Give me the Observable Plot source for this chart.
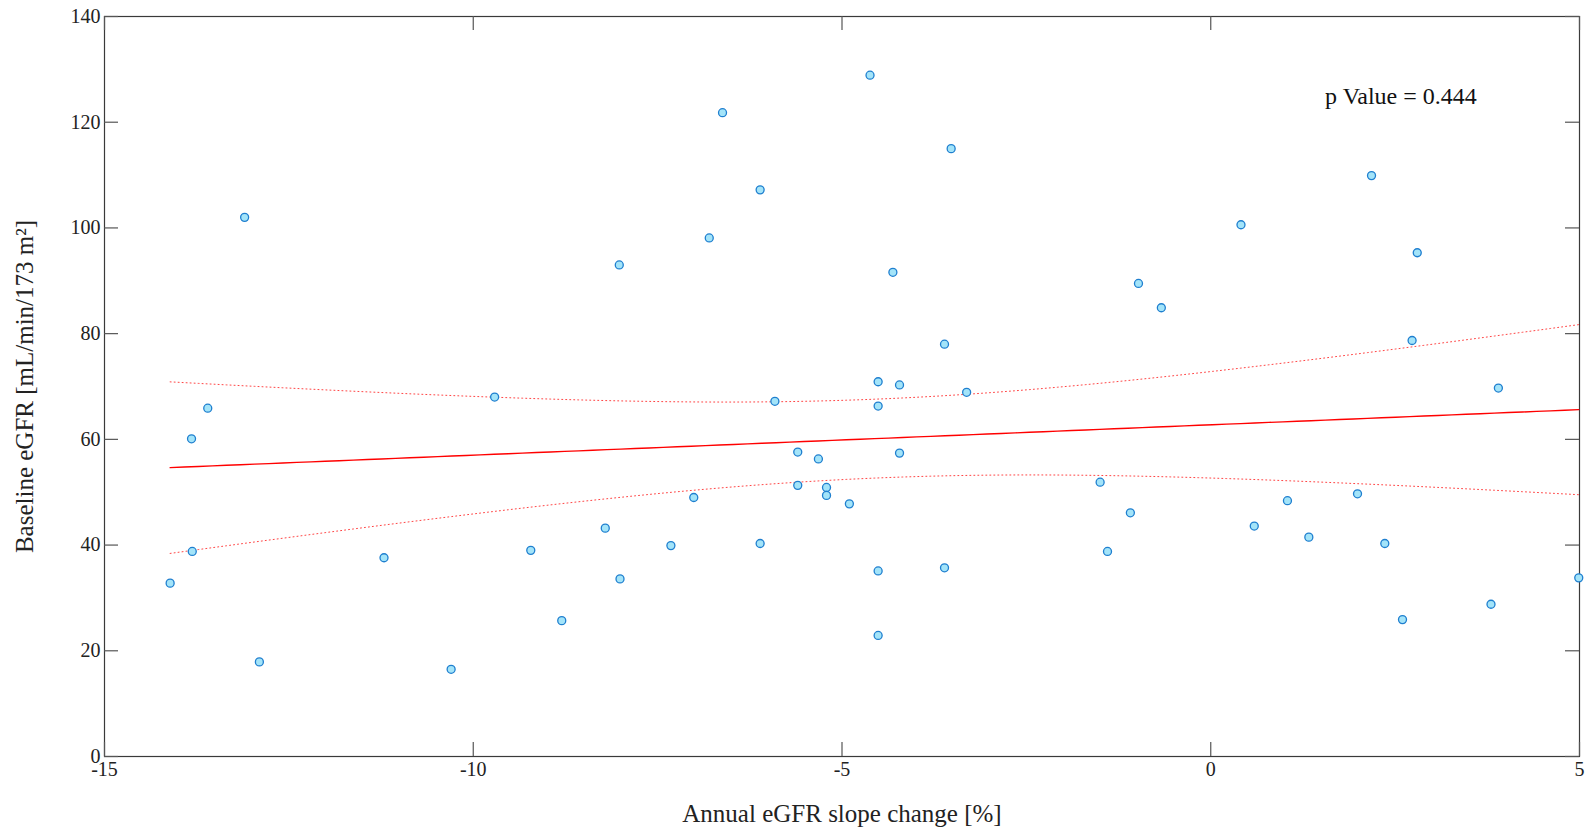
<!DOCTYPE html>
<html>
<head>
<meta charset="utf-8">
<script src="https://cdn.jsdelivr.net/npm/d3@7"></script>
<script src="https://cdn.jsdelivr.net/npm/@observablehq/plot@0.6"></script>
<style>
  html, body { margin: 0; padding: 0; background: #fff; }
  #chart svg { display: block; }
</style>
</head>
<body>
<div id="chart"></div>
<script>
// Annual eGFR slope change [%]
const slopeChange = [
  -14.11, -13.81, -13.82, -13.60, -13.10, -12.90, -11.21, -10.30, -9.71, -9.22,
  -8.80, -8.21, -8.02, -8.01, -7.32, -7.01, -6.80, -6.62, -6.11, -6.11,
  -5.91, -5.60, -5.60, -5.32, -5.21, -5.21, -4.90, -4.62, -4.51, -4.51,
  -4.51, -4.51, -4.31, -4.22, -4.22, -3.61, -3.61, -3.52, -3.31, -1.50,
  -1.40, -1.09, -0.98, -0.67, 0.41, 0.59, 1.04, 1.33, 1.99, 2.18,
  2.36, 2.60, 2.73, 2.80, 3.80, 3.90, 4.99
];
// Baseline eGFR [mL/min/1.73 m²]
const baselineEGFR = [
  32.8, 38.8, 60.1, 65.9, 102.0, 17.9, 37.6, 16.5, 68.0, 39.0,
  25.7, 43.2, 93.0, 33.6, 39.9, 49.0, 98.1, 121.8, 107.2, 40.3,
  67.2, 57.6, 51.3, 56.3, 50.9, 49.4, 47.8, 128.9, 70.9, 66.3,
  35.1, 22.9, 91.6, 70.3, 57.4, 78.0, 35.7, 115.0, 68.9, 51.9,
  38.8, 46.1, 89.5, 84.9, 100.6, 43.6, 48.4, 41.5, 49.7, 109.9,
  40.3, 25.9, 78.7, 95.3, 28.8, 69.7, 33.8
];
const xTicks = [-15, -10, -5, 0, 5];
const yTicks = [0, 20, 40, 60, 80, 100, 120, 140];
const xDomain = [-15, 5];
const yDomain = [0, 140];
const pValueText = "p Value = 0.444";
const pValuePos = [1.55, 123.5];

const points = slopeChange.map((x, i) => ({x, y: baselineEGFR[i]}));

// Least-squares fit with 95% confidence band of the mean, computed from the points
const n = points.length;
const mx = d3.mean(points, d => d.x), my = d3.mean(points, d => d.y);
const sxx = d3.sum(points, d => (d.x - mx) ** 2);
const sxy = d3.sum(points, d => (d.x - mx) * (d.y - my));
const b = sxy / sxx, a = my - b * mx;
const s = Math.sqrt(d3.sum(points, d => (d.y - (a + b * d.x)) ** 2) / (n - 2));
const tCrit = 2.004; // t(0.975, n-2)
const [xmin, xmax] = d3.extent(points, d => d.x);
const fit = d3.range(0, 101).map(i => {
  const x = xmin + (xmax - xmin) * i / 100;
  const yhat = a + b * x;
  const hw = tCrit * s * Math.sqrt(1 / n + (x - mx) ** 2 / sxx);
  return {x, yhat, lo: yhat - hw, hi: yhat + hw};
});

const W = 1589, H = 833;
const mL = 104, mR = 10, mT = 16, mB = 77;
const pw = W - mL - mR, ph = H - mT - mB;
const tickLen = 14;
const font = "'Liberation Serif', 'Times New Roman', serif";

const chart = Plot.plot({
  width: W, height: H,
  marginLeft: mL, marginRight: mR, marginTop: mT, marginBottom: mB,
  style: {fontFamily: font, fontSize: "20px", color: "#222", background: "#fff"},
  x: {domain: xDomain},
  y: {domain: yDomain},
  marks: [
    Plot.frame({stroke: "#3a3a3a", strokeWidth: 1.2}),
    // inward ticks on all four sides
    Plot.tickX(xTicks, {x: d => d, insetTop: ph - tickLen, stroke: "#555", strokeWidth: 1.2}),
    Plot.tickX(xTicks, {x: d => d, insetBottom: ph - tickLen, stroke: "#555", strokeWidth: 1.2}),
    Plot.tickY(yTicks, {y: d => d, insetRight: pw - tickLen, stroke: "#555", strokeWidth: 1.2}),
    Plot.tickY(yTicks, {y: d => d, insetLeft: pw - tickLen, stroke: "#555", strokeWidth: 1.2}),
    Plot.axisX({ticks: xTicks, tickSize: 0, tickPadding: 5, tickFormat: d => String(d),
      label: "Annual eGFR slope change [%]", labelAnchor: "center", labelArrow: "none",
      labelOffset: 65, fontSize: 20}),
    Plot.axisY({ticks: yTicks, tickSize: 0, tickPadding: 4, tickFormat: d => String(d),
      label: "Baseline eGFR [mL/min/173 m²]", labelAnchor: "center", labelArrow: "none",
      labelOffset: 89, fontSize: 20}),
    Plot.line(fit, {x: "x", y: "hi", stroke: "#ff3030", strokeWidth: 1, strokeDasharray: "1,3", strokeOpacity: 0.9}),
    Plot.line(fit, {x: "x", y: "lo", stroke: "#ff3030", strokeWidth: 1, strokeDasharray: "1,3", strokeOpacity: 0.9}),
    Plot.line(fit, {x: "x", y: "yhat", stroke: "#ff0000", strokeWidth: 1.4}),
    Plot.dot(points, {x: "x", y: "y", r: 4, fill: "#a3e4f9", stroke: "#1f7fcf", strokeWidth: 1.3}),
    Plot.text([pValueText], {x: pValuePos[0], y: pValuePos[1], text: d => d, textAnchor: "start",
      lineAnchor: "bottom", fontSize: 24, fill: "#111"})
  ]
});
// enlarge axis label font
chart.querySelectorAll("[aria-label='x-axis label'], [aria-label='y-axis label']").forEach(g => {
  g.setAttribute("font-size", "25");
  g.style.fontSize = "25px";
});
document.getElementById("chart").append(chart);
</script>
</body>
</html>
